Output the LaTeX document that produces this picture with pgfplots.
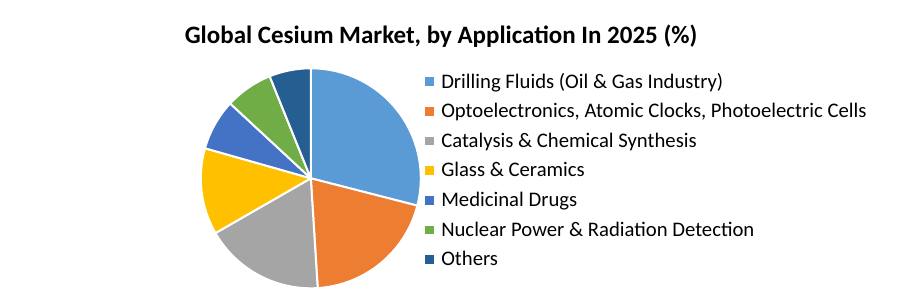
\documentclass[border=0pt]{standalone}
\usepackage{pgfplots}
\usepackage{pgfplotstable}
\pgfplotsset{compat=1.18}
\usepackage{fontspec}
\setmainfont{Carlito}
\definecolor{c1}{HTML}{5B9BD5}
\definecolor{c2}{HTML}{ED7D31}
\definecolor{c3}{HTML}{A5A5A5}
\definecolor{c4}{HTML}{FFC000}
\definecolor{c5}{HTML}{4472C4}
\definecolor{c6}{HTML}{70AD47}
\definecolor{c7}{HTML}{255E91}
\pgfplotstableread{
value color
29.0 c1
20.0 c2
17.7 c3
12.7 c4
7.5 c5
7.0 c6
6.1 c7
}\piedata
\begin{document}
\begin{tikzpicture}
\path[use as bounding box] (0,0) rectangle (908pt,305pt);
\begin{axis}[
  at={(310.8pt,126.7pt)}, anchor=center,
  x=110pt, y=110pt,
  xmin=-1, xmax=1, ymin=-1, ymax=1,
  hide axis, clip=false,
  title={Global Cesium Market, by Application In 2025 (\%)},
  title style={at={(axis cs:1.184,1.17)}, anchor=base, font=\fontsize{25}{29}\selectfont\bfseries},
  legend style={at={(axis cs:1.015,0.075)}, anchor=west, draw=none, fill=none,
    font=\fontsize{20.7}{24}\selectfont, row sep=9.7pt,
    /tikz/every odd column/.append style={column sep=6pt}},
  legend cell align=left,
]
\pgfplotstablegetrowsof{\piedata}
\pgfmathtruncatemacro\N{\pgfplotsretval-1}
\def\angA{90}
\pgfplotsforeachungrouped \i in {0,...,\N}{%
  \pgfplotstablegetelem{\i}{value}\of\piedata
  \pgfmathsetmacro\angB{\angA-3.6*\pgfplotsretval}
  \pgfmathsetmacro\xA{cos(\angA)}
  \pgfmathsetmacro\yA{sin(\angA)}
  \pgfplotstablegetelem{\i}{color}\of\piedata
  \edef\temp{\noexpand\filldraw[fill=\pgfplotsretval, draw=white, line width=2pt, line join=round] (axis cs:0,0) -- (axis cs:\xA,\yA) arc[start angle=\angA, end angle=\angB, radius=110pt] -- cycle;}%
  \temp
  \let\angA\angB
}
\addlegendimage{only marks, mark=square*, mark size=3.8pt, color=c1}
\addlegendentry{Drilling Fluids (Oil \& Gas Industry)}
\addlegendimage{only marks, mark=square*, mark size=3.8pt, color=c2}
\addlegendentry{Optoelectronics, Atomic Clocks, Photoelectric Cells}
\addlegendimage{only marks, mark=square*, mark size=3.8pt, color=c3}
\addlegendentry{Catalysis \& Chemical Synthesis}
\addlegendimage{only marks, mark=square*, mark size=3.8pt, color=c4}
\addlegendentry{Glass \& Ceramics}
\addlegendimage{only marks, mark=square*, mark size=3.8pt, color=c5}
\addlegendentry{Medicinal Drugs}
\addlegendimage{only marks, mark=square*, mark size=3.8pt, color=c6}
\addlegendentry{Nuclear Power \& Radiation Detection}
\addlegendimage{only marks, mark=square*, mark size=3.8pt, color=c7}
\addlegendentry{Others}
\end{axis}
\end{tikzpicture}
\end{document}
